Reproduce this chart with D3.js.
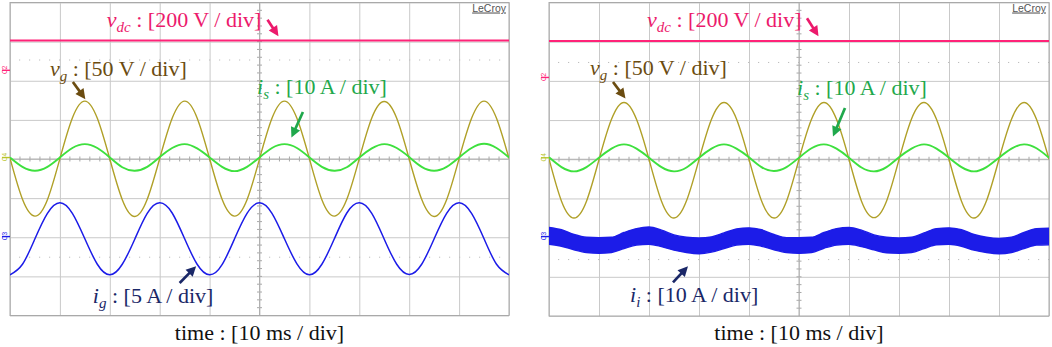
<!DOCTYPE html>
<html>
<head>
<meta charset="utf-8">
<script src="https://cdn.jsdelivr.net/npm/d3@7"></script>
<style>
  body { margin: 0; background: #fff; }
  svg { display: block; font-family: "Liberation Serif", "Times New Roman", serif; }
</style>
</head>
<body>
<div id="chart"></div>
<script>
var W = 1052, H = 347;

// sample clock: one point every 2.5 ms (quarter division), 0..100 ms
var timeMs = d3.range(0, 100.01, 2.5);
var xTicks = [0, 10, 20, 30, 40, 50, 60, 70, 80, 90, 100];   // 10 ms / div
var yTicks = [-4, -3, -2, -1, 0, 1, 2, 3, 4];                // divisions

// ---- left scope shot (values in screen divisions) ----
var vdcLeft = [3.03,3.03,3.03,3.03,3.03,3.03,3.03,3.03,3.03,3.03,3.03,3.03,3.03,3.03,3.03,3.03,3.03,3.03,3.03,3.03,3.03,
               3.03,3.03,3.03,3.03,3.03,3.03,3.03,3.03,3.03,3.03,3.03,3.03,3.03,3.03,3.03,3.03,3.03,3.03,3.03,3.03];
var vgLeft = [0.02,-1.03,-1.46,-1.04,0.01,1.05,1.48,1.04,
              0.00,-1.04,-1.47,-1.03,0.01,1.04,1.48,1.05,
              0.01,-1.03,-1.46,-1.04,0.00,1.04,1.48,1.04,
              0.01,-1.04,-1.46,-1.03,0.01,1.05,1.47,1.04,
              0.00,-1.03,-1.47,-1.04,0.01,1.04,1.48,1.04, 0.01];
var isLeft = [0.04,-0.20,-0.30,-0.20,0.04,0.28,0.38,0.28,
              0.04,-0.21,-0.30,-0.20,0.05,0.28,0.38,0.27,
              0.04,-0.20,-0.31,-0.20,0.04,0.28,0.38,0.28,
              0.04,-0.20,-0.30,-0.21,0.04,0.27,0.38,0.28,
              0.05,-0.20,-0.30,-0.20,0.04,0.28,0.39,0.28, 0.04];
var igLeft = [-2.96,-2.69,-2.04,-1.39,-1.12,-1.39,-2.04,-2.69,
              -2.96,-2.69,-2.05,-1.39,-1.12,-1.38,-2.04,-2.69,
              -2.96,-2.70,-2.04,-1.39,-1.12,-1.39,-2.04,-2.68,
              -2.96,-2.69,-2.04,-1.38,-1.12,-1.39,-2.05,-2.69,
              -2.95,-2.69,-2.04,-1.39,-1.12,-1.39,-2.04,-2.69, -2.96];

// ---- right scope shot ----
var vdcRight = [3.02,3.02,3.02,3.02,3.02,3.02,3.02,3.02,3.02,3.02,3.02,3.02,3.02,3.02,3.02,3.02,3.02,3.02,3.02,3.02,3.02,
                3.02,3.02,3.02,3.02,3.02,3.02,3.02,3.02,3.02,3.02,3.02,3.02,3.02,3.02,3.02,3.02,3.02,3.02,3.02,3.02];
var vgRight = [0.01,-1.07,-1.50,-1.07,-0.01,1.02,1.45,1.02,
               0.00,-1.07,-1.50,-1.06,-0.01,1.02,1.45,1.03,
               0.00,-1.06,-1.50,-1.07,0.00,1.02,1.45,1.02,
               0.00,-1.07,-1.49,-1.07,-0.01,1.03,1.45,1.02,
               0.00,-1.07,-1.50,-1.06,0.00,1.02,1.45,1.02, 0.00];
var isRight = [0.05,-0.20,-0.31,-0.20,0.04,0.27,0.38,0.27,
               0.04,-0.20,-0.31,-0.21,0.04,0.27,0.38,0.27,
               0.05,-0.20,-0.30,-0.20,0.04,0.28,0.38,0.27,
               0.04,-0.21,-0.31,-0.20,0.05,0.27,0.38,0.27,
               0.04,-0.20,-0.31,-0.20,0.04,0.27,0.38,0.28, 0.04];
// inverter current: switching ripple band, upper / lower envelope
var iiTop = [-1.74,-1.80,-1.92,-1.99,-2.00,-1.99,-1.87,-1.77,
             -1.73,-1.81,-1.93,-1.99,-2.01,-1.98,-1.88,-1.78,
             -1.75,-1.80,-1.92,-2.00,-2.00,-1.99,-1.87,-1.77,
             -1.74,-1.81,-1.93,-1.99,-2.01,-1.99,-1.88,-1.77,
             -1.75,-1.80,-1.92,-1.99,-2.02,-1.99,-1.87,-1.77, -1.76];
var iiBot = [-2.17,-2.22,-2.31,-2.38,-2.40,-2.38,-2.28,-2.19,
             -2.17,-2.23,-2.32,-2.38,-2.41,-2.37,-2.28,-2.19,
             -2.17,-2.22,-2.31,-2.38,-2.40,-2.38,-2.27,-2.19,
             -2.17,-2.23,-2.31,-2.39,-2.40,-2.38,-2.28,-2.18,
             -2.17,-2.22,-2.32,-2.38,-2.41,-2.38,-2.28,-2.19, -2.18];

var col = {
  vdc: "#ff2378", vdcText: "#ec1a6c",
  vg: "#b0a028", vgText: "#6b4c10",
  is: "#3ee03e", isText: "#1fa84c",
  ig: "#1c1ce8", igText: "#1a2767",
  grid: "#c9c9c9", frame: "#a9a9a9"
};

var panels = [
  {
    left: 10, right: 509, top: 2.5, bottom: 315.5,
    vdc: vdcLeft, vg: vgLeft, is: isLeft, ig: igLeft,
    gnd: {c2: 2.28, c4: 0.05, c3: -1.97},
    dotted: [2.53, -2.51],
    labels: {
      vdc: [19.4, 3.37], vdcArrow: [51.6, 3.56, 53.8, 3.14],
      vg: [8.0, 2.12], vgArrow: [12.6, 1.97, 15.1, 1.53],
      is: [49.5, 1.67], isArrow: [58.7, 1.20, 56.4, 0.55],
      ig: [16.6, -3.68], igArrow: [34.0, -3.17, 37.3, -2.74],
      name: "g"
    }
  },
  {
    left: 549, right: 1049, top: 2.5, bottom: 316,
    vdc: vdcRight, vg: vgRight, is: isRight, band: [iiTop, iiBot],
    gnd: {c2: 2.10, c4: 0.05, c3: -1.96},
    dotted: [2.47, -2.56],
    labels: {
      vdc: [19.6, 3.37], vdcArrow: [51.6, 3.60, 53.9, 3.14],
      vg: [8.2, 2.15], vgArrow: [12.8, 1.97, 15.3, 1.55],
      is: [49.6, 1.64], isArrow: [59.2, 1.31, 56.8, 0.58],
      ig: [16.2, -3.65], igArrow: [24.8, -3.14, 27.8, -2.73],
      name: "i"
    }
  }
];

var svg = d3.select("#chart").append("svg")
  .attr("width", W).attr("height", H);

function arrow(g, x1, y1, x2, y2, color) {
  var dx = x2 - x1, dy = y2 - y1, len = Math.sqrt(dx * dx + dy * dy);
  var ux = dx / len, uy = dy / len, hl = 10, hw = 5;
  var bx = x2 - ux * hl, by = y2 - uy * hl;
  g.append("line").attr("x1", x1).attr("y1", y1).attr("x2", bx + ux).attr("y2", by + uy)
    .attr("stroke", color).attr("stroke-width", 2.7);
  g.append("path")
    .attr("d", "M" + x2 + "," + y2 + "L" + (bx - uy * hw) + "," + (by + ux * hw) +
               "L" + (bx + uy * hw) + "," + (by - ux * hw) + "Z")
    .attr("fill", color);
}

function label(g, x, y, sym, sub, rest, color) {
  var t = g.append("text").attr("x", x).attr("y", y)
    .attr("fill", color).attr("font-size", 22);
  t.append("tspan").attr("font-style", "italic").text(sym);
  t.append("tspan").attr("font-style", "italic").attr("font-size", 15)
    .attr("dy", 5).text(sub);
  t.append("tspan").attr("dy", -5).text(" : " + rest);
}

function drawPanel(p) {
  var x = d3.scaleLinear().domain([0, 100]).range([p.left, p.right]);
  var y = d3.scaleLinear().domain([-4, 4]).range([p.bottom, p.top]);
  var g = svg.append("g");
  var h = p.bottom - p.top, w = p.right - p.left;

  // grid
  var gx = g.append("g").attr("transform", "translate(0," + p.bottom + ")")
    .call(d3.axisBottom(x).tickValues(xTicks).tickSize(h).tickFormat(""));
  gx.selectAll(".tick line").attr("transform", "translate(0," + (-h) + ")");
  g.append("g").attr("transform", "translate(" + p.left + ",0)")
    .call(d3.axisRight(y).tickValues(yTicks).tickSize(w).tickFormat(""));
  g.selectAll(".domain").remove();
  g.selectAll(".tick line").attr("stroke", col.grid).attr("stroke-width", 1);

  // faint dotted rows
  p.dotted.forEach(function (d) {
    g.append("line").attr("x1", x(0) + 9).attr("x2", x(100))
      .attr("y1", y(d)).attr("y2", y(d))
      .attr("stroke", "#bdbdbd").attr("stroke-dasharray", "1.2 8.8");
  });

  // center cross with minor ticks
  var minorX = d3.range(2, 100, 2), minorY = d3.range(-3.8, 3.81, 0.2);
  g.selectAll(".mx").data(minorX).enter().append("line")
    .attr("x1", function (d) { return x(d); }).attr("x2", function (d) { return x(d); })
    .attr("y1", y(0) - 2.5).attr("y2", y(0) + 2.5)
    .attr("stroke", "#a8a8a8");
  g.selectAll(".my").data(minorY).enter().append("line")
    .attr("y1", function (d) { return y(d); }).attr("y2", function (d) { return y(d); })
    .attr("x1", x(50) - 2.5).attr("x2", x(50) + 2.5)
    .attr("stroke", "#a8a8a8");
  g.append("line").attr("x1", x(0)).attr("x2", x(100)).attr("y1", y(0)).attr("y2", y(0))
    .attr("stroke", "#b0b0b0");
  g.append("line").attr("x1", x(50)).attr("x2", x(50)).attr("y1", y(-4)).attr("y2", y(4))
    .attr("stroke", "#b0b0b0");

  // frame
  g.append("rect").attr("x", p.left).attr("y", p.top).attr("width", w).attr("height", h)
    .attr("fill", "none").attr("stroke", col.frame);

  // LeCroy mark
  g.append("text").attr("x", p.right - 3).attr("y", 11.5).attr("text-anchor", "end")
    .attr("font-family", "Liberation Sans, Arial, sans-serif").attr("font-size", 10.5)
    .attr("fill", "#555").attr("text-decoration", "underline").text("LeCroy");

  // channel ground markers
  [["C2", p.gnd.c2, col.vdc], ["C4", p.gnd.c4, "#b8c428"], ["C3", p.gnd.c3, col.ig]].forEach(function (m) {
    g.append("line").attr("x1", p.left - 8).attr("x2", p.left).attr("y1", y(m[1]) + 0.5).attr("y2", y(m[1]) + 0.5)
      .attr("stroke", m[2]).attr("stroke-width", 1.4);
    g.append("text").attr("transform", "translate(" + (p.left - 3) + "," + y(m[1]) + ") rotate(-90)")
      .attr("text-anchor", "middle").attr("font-family", "Liberation Sans, Arial, sans-serif")
      .attr("font-size", 6.5).attr("fill", m[2]).text(m[0]);
  });

  var line = d3.line()
    .x(function (d, i) { return x(timeMs[i]); })
    .y(function (d) { return y(d); })
    .curve(d3.curveNatural);

  var clip = "clip" + p.left;
  svg.append("clipPath").attr("id", clip).append("rect")
    .attr("x", p.left).attr("y", p.top).attr("width", w).attr("height", h);
  var traces = g.append("g").attr("clip-path", "url(#" + clip + ")");

  traces.append("path").datum(p.vdc).attr("d", line)
    .attr("fill", "none").attr("stroke", col.vdc).attr("stroke-width", 2);
  if (p.ig) {
    traces.append("path").datum(p.ig).attr("d", line)
      .attr("fill", "none").attr("stroke", col.ig).attr("stroke-width", 1.5);
  }
  if (p.band) {
    var area = d3.area()
      .x(function (d, i) { return x(timeMs[i]); })
      .y0(function (d, i) { return y(p.band[1][i]); })
      .y1(function (d) { return y(d); })
      .curve(d3.curveMonotoneX);
    traces.append("path").datum(p.band[0]).attr("d", area)
      .attr("fill", col.ig).attr("stroke", col.ig).attr("stroke-width", 1.4);
  }
  traces.append("path").datum(p.vg).attr("d", line)
    .attr("fill", "none").attr("stroke", col.vg).attr("stroke-width", 1.4);
  traces.append("path").datum(p.is).attr("d", line)
    .attr("fill", "none").attr("stroke", col.is).attr("stroke-width", 1.9);

  // annotations
  var L = p.labels;
  label(g, x(L.vdc[0]), y(L.vdc[1]), "v", "dc", "[200 V / div]", col.vdcText);
  arrow(g, x(L.vdcArrow[0]), y(L.vdcArrow[1]), x(L.vdcArrow[2]), y(L.vdcArrow[3]), col.vdcText);
  label(g, x(L.vg[0]), y(L.vg[1]), "v", "g", "[50 V / div]", col.vgText);
  arrow(g, x(L.vgArrow[0]), y(L.vgArrow[1]), x(L.vgArrow[2]), y(L.vgArrow[3]), col.vgText);
  label(g, x(L.is[0]), y(L.is[1]), "i", "s", "[10 A / div]", col.isText);
  arrow(g, x(L.isArrow[0]), y(L.isArrow[1]), x(L.isArrow[2]), y(L.isArrow[3]), col.isText);
  label(g, x(L.ig[0]), y(L.ig[1]), "i", L.name, L.name === "g" ? "[5 A / div]" : "[10 A / div]", col.igText);
  arrow(g, x(L.igArrow[0]), y(L.igArrow[1]), x(L.igArrow[2]), y(L.igArrow[3]), col.igText);

  g.append("text").attr("x", x(50)).attr("y", 340).attr("text-anchor", "middle")
    .attr("font-size", 22).attr("fill", "#111").text("time : [10 ms / div]");
}

panels.forEach(drawPanel);
</script>
</body>
</html>
